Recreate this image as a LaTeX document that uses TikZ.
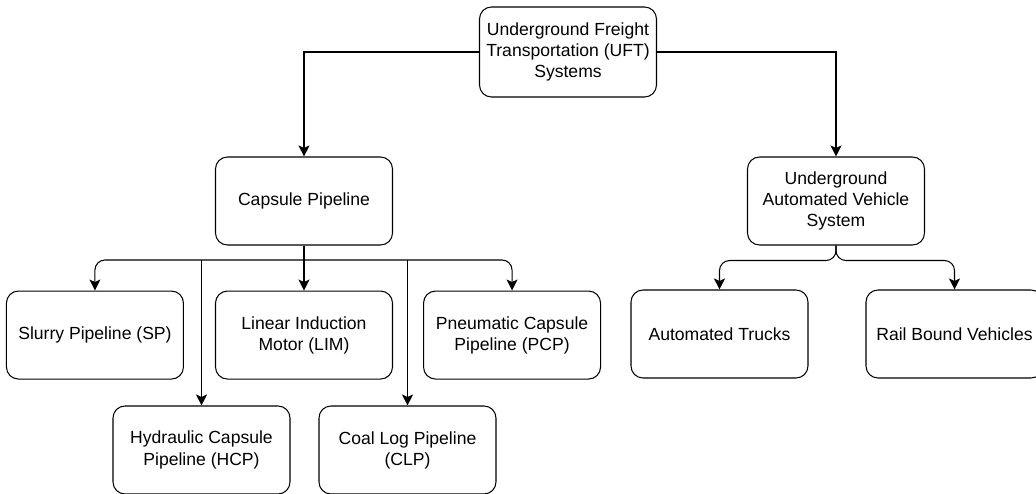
\documentclass[tikz,border=0pt]{standalone}
\usepackage{fontspec}
\setmainfont{Liberation Sans}
\usetikzlibrary{arrows.meta}
\usetikzlibrary{positioning}
\tikzset{
  box/.style={draw, rounded corners=2.4mm, minimum width=3.54cm, minimum height=1.76cm,
    align=center, line width=0.6pt, font=\fontsize{10}{12}\selectfont},
  link/.style={-{Stealth[length=2.2mm,width=2.2mm,inset=0.5mm]}, line width=0.6pt}
}

\begin{document}
\begin{tikzpicture}
  \useasboundingbox (0,0) rectangle (20.72,-9.88);

  \node [box, minimum height=1.8cm] (uft) at (11.36,-1.04) {Underground Freight\\Transportation (UFT)\\Systems};
  \node [box] (cap) at (6.08,-4.02) {Capsule Pipeline};
  \node [box] (uav) at (16.72,-4.02) {Underground\\Automated Vehicle\\System};

  \node [box, below=0.9cm of cap] (lim) {Linear Induction\\Motor (LIM)};
  \node [box, left=0.62cm of lim] (slurry) {Slurry Pipeline (SP)};
  \node [box, right=0.6cm of lim] (pcp) {Pneumatic Capsule\\Pipeline (PCP)};
  \node [box] (hcp) at (4.03,-9.0) {Hydraulic Capsule\\Pipeline (HCP)};
  \node [box] (clp) at (8.15,-9.0) {Coal Log Pipeline\\(CLP)};

  \node [box] (trucks) at (14.39,-6.68) {Automated Trucks};
  \node [box] (rail) at (19.09,-6.68) {Rail Bound Vehicles};

  \coordinate (bus) at (0,-5.2);

  \draw [link] (uft.west) -| (cap.north);
  \draw [link] (uft.east) -| (uav.north);

  \draw [link] (cap.south) -- (lim.north);
  \draw [link, rounded corners=2mm] (lim.north |- bus) -| (slurry.north);
  \draw [link, rounded corners=2mm] (lim.north |- bus) -| (pcp.north);
  \draw [link] (hcp.north |- bus) -- (hcp.north);
  \draw [link] (clp.north |- bus) -- (clp.north);

  \draw [link, rounded corners=2mm] (uav.south) -- ++(0,-0.3) -| (trucks.north);
  \draw [link, rounded corners=2mm] (uav.south) -- ++(0,-0.3) -| (rail.north);

\end{tikzpicture}
\end{document}
